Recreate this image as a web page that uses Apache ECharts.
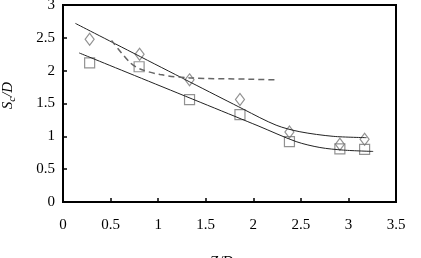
<!DOCTYPE html>
<html><head><meta charset="utf-8">
<script src="https://cdn.jsdelivr.net/npm/echarts@6/dist/echarts.min.js"></script>
<style>html,body{margin:0;padding:0;background:#fff}#c{width:421px;height:258px}</style>
</head><body><div id="c"></div>
<script>
var xTicks = ['0','0.5','1','1.5','2','2.5','3','3.5'];
var yTicks = ['0','0.5','1','1.5','2','2.5','3'];
var diamonds = [[0.28,2.48],[0.805,2.25],[1.33,1.86],[1.86,1.56],[2.38,1.065],[2.91,0.88],[3.17,0.955]];
var squares = [[0.28,2.12],[0.80,2.06],[1.33,1.56],[1.86,1.33],[2.38,0.92],[2.91,0.81],[3.17,0.80]];
var upperFit = [[0.13,2.72],[1.9,1.41],[2.24,1.17],[2.49,1.07],[2.84,1.0],[3.19,0.98]];
var lowerFit = [[0.17,2.27],[2.05,1.16],[2.45,0.92],[2.7,0.83],[2.95,0.79],[3.26,0.77]];
var dashed = [[0.51,2.46],[0.70,2.13],[0.805,2.03],[1.02,1.94],[1.33,1.89],[1.96,1.87],[2.24,1.86]];

var F = 'Liberation Serif';
var chart = echarts.init(document.getElementById('c'), null, {renderer:'canvas'});
var diamondPath = 'path://M0,-6 L4.5,0 L0,6 L-4.5,0 Z';
chart.setOption({
  animation:false,
  backgroundColor:'#fff',
  grid:{left:63,right:25,top:5,bottom:56,containLabel:false,outerBoundsMode:'none',show:true,borderColor:'#000',borderWidth:2,backgroundColor:'transparent'},
  xAxis:{type:'value',min:0,max:3.5,interval:0.5,
    name:'Z/D',nameLocation:'middle',nameGap:53,
    nameTextStyle:{fontFamily:F,fontStyle:'italic',fontSize:15,color:'#000',padding:[0,16,0,0]},
    axisLine:{lineStyle:{color:'#000',width:2}},
    axisTick:{inside:true,length:4,lineStyle:{color:'#000',width:1.5}},
    axisLabel:{fontFamily:F,fontSize:15,color:'#000',margin:16,
      formatter:function(v){var i=Math.round(v/0.5);return xTicks[i];}},
    splitLine:{show:false}},
  yAxis:{type:'value',min:0,max:3,interval:0.5,
    name:'{i|S}{s|c}{i|/D}',nameLocation:'middle',nameGap:45,nameRotate:90,
    nameTextStyle:{fontFamily:F,color:'#000',padding:[0,0,0,16],
      rich:{i:{fontFamily:F,fontStyle:'italic',fontSize:15,color:'#000'},
            s:{fontFamily:F,fontStyle:'italic',fontSize:11,color:'#000',padding:[8,0,0,0]}}},
    axisLine:{lineStyle:{color:'#000',width:2}},
    axisTick:{inside:true,length:4,lineStyle:{color:'#000',width:1.5}},
    axisLabel:{fontFamily:F,fontSize:15,color:'#000',margin:8,
      formatter:function(v){var i=Math.round(v/0.5);return yTicks[i];}},
    splitLine:{show:false}},
  series:[
    {type:'line',data:upperFit,smooth:0.3,showSymbol:false,lineStyle:{color:'#222',width:1}},
    {type:'line',data:lowerFit,smooth:0.3,showSymbol:false,lineStyle:{color:'#222',width:1}},
    {type:'line',data:dashed,smooth:0.3,showSymbol:false,lineStyle:{color:'#666',width:1.5,type:[6,4]}},
    {type:'scatter',data:diamonds,symbol:diamondPath,symbolSize:[9,12],
      itemStyle:{color:'#fff',borderColor:'#777',borderWidth:1.2}},
    {type:'scatter',data:squares,symbol:'rect',symbolSize:10,
      itemStyle:{color:'rgba(255,255,255,0)',borderColor:'#777',borderWidth:1.2}}
  ]
});
</script></body></html>
